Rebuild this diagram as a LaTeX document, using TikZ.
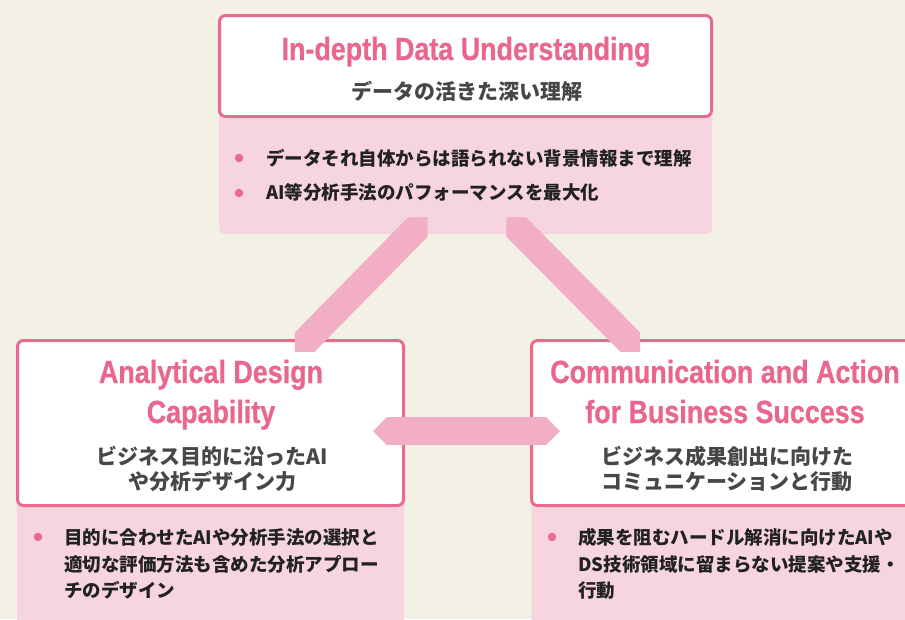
\documentclass[tikz,border=0pt]{standalone}
\usepackage{fontspec}
\setmainfont{Liberation Sans}
\newfontfamily\headfont[FakeStretch=0.84,FakeBold=0.6]{Liberation Sans Bold}
\newfontfamily\jpfont{Noto Sans CJK JP}
\usetikzlibrary{calc}

\definecolor{bgcream}{HTML}{F3F0E5}
\definecolor{panelpink}{HTML}{F7D5E0}
\definecolor{barpink}{HTML}{F2AEC4}
\definecolor{rimpink}{HTML}{EA6A8F}
\definecolor{headpink}{HTML}{E9678D}
\definecolor{subgray}{HTML}{474747}
\definecolor{itemgray}{HTML}{222222}

\tikzset{
	headbox/.style={draw=rimpink,line width=3pt,fill=white,rounded corners=6pt,inner sep=0pt},
	panel/.style={fill=panelpink,rounded corners=5pt,inner sep=0pt},
	heading/.style={text=headpink,font=\headfont\fontsize{32}{40}\selectfont,anchor=base,inner sep=0pt},
	subhead/.style={text=subgray,font=\jpfont\bfseries\fontsize{21}{25}\selectfont,anchor=base,inner sep=0pt},
	item/.style={text=itemgray,font=\jpfont\bfseries\fontsize{18.5}{26}\selectfont,anchor=base west,inner sep=0pt},
	dot/.style={circle,fill=rimpink,minimum size=8.5pt,inner sep=0pt}
}

% band with pointed ends from #1 to #2
\newcommand\linkbar[2]{%
\fill[barpink] (#1)--($(#1)!19.5pt!45:(#2)$)--($(#2)!19.5pt!-45:(#1)$)--(#2)
  --($(#2)!19.5pt!45:(#1)$)--($(#1)!19.5pt!-45:(#2)$)--cycle;}

\begin{document}
\begin{tikzpicture}[x=1pt,y=-1pt]
\path[use as bounding box] (0,0) rectangle (905,619);
\fill[bgcream] (0,0) rectangle (905,619);
%Kaesten
\node[panel,minimum width=493,minimum height=134] (tpanel) at (465.5,167) {};
\node[headbox,minimum width=492,minimum height=101] (tbox) at (465.5,66) {};
\node[panel,minimum width=387,minimum height=150] (lpanel) at (210.5,565) {};
\node[headbox,minimum width=386,minimum height=165] (lbox) at (210.5,423) {};
\node[panel,minimum width=387,minimum height=150] (rpanel) at (725,565) {};
\node[headbox,minimum width=386,minimum height=165] (rbox) at (724.5,423) {};
%Verbinder
\coordinate (tl) at ($(tpanel.south)+(-38,-17)$);
\coordinate (tr) at ($(tpanel.south)+(41,-17)$);
\coordinate (lt) at ($(lbox.north)+(84.5,13)$);
\coordinate (rt) at ($(rbox.north)+(-84.5,13)$);
\coordinate (le) at ($(lbox.east)+(-32,8)$);
\coordinate (rw) at ($(rbox.west)+(30,8)$);
\linkbar{tl}{lt}
\linkbar{tr}{rt}
\linkbar{le}{rw}
%oben
\node[heading] (ttitle) at (466,60) {In-depth Data Understanding};
\node[subhead] (tsub) at (467,99) {データの活きた深い理解};
\node[dot] (tdot1) at (239,158) {};
\node[item] (titem1) at (266,165) {データそれ自体からは語られない背景情報まで理解};
\node[dot] (tdot2) at (239,193) {};
\node[item] (titem2) at (266,199) {AI等分析手法のパフォーマンスを最大化};
%links
\node[heading] (ltitle1) at (211,383) {Analytical Design};
\node[heading] (ltitle2) at (211,423) {Capability};
\node[subhead] (lsub1) at (212,464) {ビジネス目的に沿ったAI};
\node[subhead] (lsub2) at (212,489) {や分析デザイン力};
\node[dot] (ldot) at (38,537) {};
\node[item] (litem1) at (64,544) {目的に合わせたAIや分析手法の選択と};
\node[item] (litem2) at (64,571) {適切な評価方法も含めた分析アプロー};
\node[item] (litem3) at (64,597) {チのデザイン};
%rechts
\node[heading] (rtitle1) at (725,383) {Communication and Action};
\node[heading] (rtitle2) at (725,423) {for Business Success};
\node[subhead] (rsub1) at (727,464) {ビジネス成果創出に向けた};
\node[subhead] (rsub2) at (727,489) {コミュニケーションと行動};
\node[dot] (rdot) at (552,537) {};
\node[item] (ritem1) at (578,544) {成果を阻むハードル解消に向けたAIや};
\node[item] (ritem2) at (578,571) {DS技術領域に留まらない提案や支援・};
\node[item] (ritem3) at (578,597) {行動};
\end{tikzpicture}
\end{document}
